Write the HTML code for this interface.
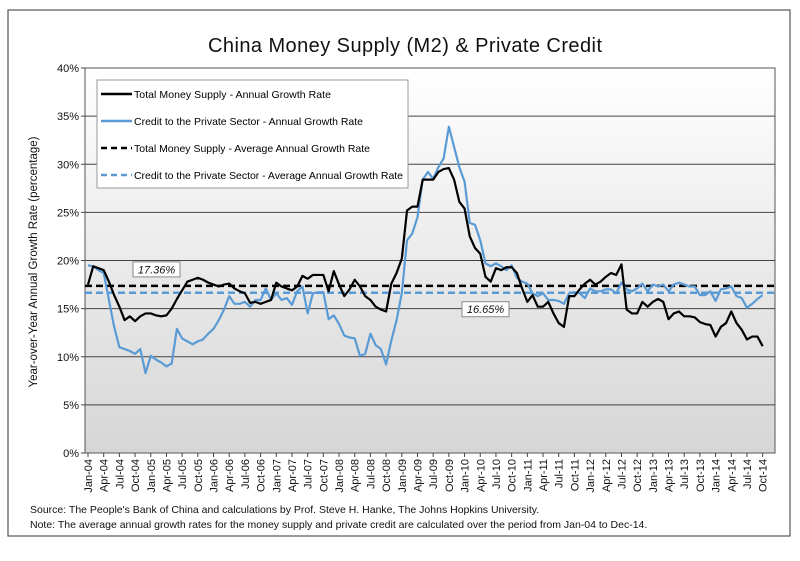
<!DOCTYPE html>
<html><head><meta charset="utf-8">
<style>
body{margin:0;background:#fff;width:800px;height:561px;overflow:hidden;font-family:"Liberation Sans",sans-serif}
svg{display:block}
</style></head>
<body>
<svg id="chart" width="800" height="561" xmlns="http://www.w3.org/2000/svg">
<defs>
<linearGradient id="bg" x1="0" y1="0" x2="0" y2="1"><stop offset="0" stop-color="#ffffff"/><stop offset="1" stop-color="#d6d6d6"/></linearGradient>
</defs>
<rect x="8" y="10" width="782" height="526" fill="#fff" stroke="#555" stroke-width="1.2"/>
<text x="405" y="52" text-anchor="middle" font-size="20" fill="#111" textLength="394">China Money Supply (M2) &amp; Private Credit</text>
<rect x="85" y="68" width="690" height="385" fill="url(#bg)" stroke="#555"/>
<g id="grid"></g><g id="yticks"></g><g id="xticks"></g><g id="series"></g>
<text transform="translate(37,262) rotate(-90)" text-anchor="middle" font-size="11.5" fill="#111">Year-over-Year Annual Growth Rate (percentage)</text>
<g>
<rect x="97" y="80" width="311" height="108" fill="#fff" stroke="#999"/>
<line x1="101" y1="94" x2="132" y2="94" stroke="#000" stroke-width="2.5"/><text x="134" y="98" font-size="10.5" textLength="197">Total Money Supply - Annual Growth Rate</text>
<line x1="101" y1="121" x2="132" y2="121" stroke="#5b9bd5" stroke-width="2.5"/><text x="134" y="125" font-size="10.5" textLength="229">Credit to the Private Sector - Annual Growth Rate</text>
<line x1="101" y1="148" x2="132" y2="148" stroke="#000" stroke-width="2.5" stroke-dasharray="6,4"/><text x="134" y="152" font-size="10.5" textLength="236">Total Money Supply - Average Annual Growth Rate</text>
<line x1="101" y1="175" x2="132" y2="175" stroke="#5b9bd5" stroke-width="2.5" stroke-dasharray="6,4"/><text x="134" y="179" font-size="10.5" textLength="269">Credit to the Private Sector - Average Annual Growth Rate</text>
</g>
<text x="30" y="513" font-size="10.5" fill="#111">Source: The People's Bank of China and calculations by Prof. Steve H. Hanke, The Johns Hopkins University.</text>
<text x="30" y="528" font-size="10.5" fill="#111">Note: The average annual growth rates for the money supply and private credit are calculated over the period from Jan-04 to Dec-14.</text>
</svg>
<script>
const m2=[17.5,19.4,19.2,19.0,17.8,16.4,15.2,13.8,14.2,13.7,14.2,14.5,
14.5,14.3,14.2,14.3,15.0,16.0,16.9,17.8,18.0,18.2,18.0,17.7,
17.5,17.3,17.5,17.6,17.1,16.8,16.6,15.6,15.7,15.5,15.7,15.9,
17.7,17.3,17.1,16.9,17.3,18.4,18.1,18.5,18.5,18.5,16.8,18.9,
17.5,16.3,17.0,18.0,17.3,16.3,15.9,15.2,14.9,14.7,17.6,18.7,
20.2,25.2,25.6,25.6,28.4,28.4,28.4,29.2,29.5,29.6,28.4,26.1,
25.4,22.5,21.3,20.7,18.3,17.8,19.2,19.0,19.3,19.3,18.7,17.1,
15.7,16.4,15.2,15.2,15.7,14.5,13.5,13.1,16.3,16.3,17.0,17.6,
18.0,17.5,17.8,18.3,18.7,18.5,19.6,14.9,14.5,14.5,15.7,15.2,
15.7,16.0,15.7,13.9,14.5,14.7,14.2,14.2,14.1,13.6,13.4,13.3,
12.1,13.1,13.5,14.7,13.5,12.8,11.8,12.1,12.1,11.1];
const credit=[19.5,19.4,19.0,18.7,15.9,13.1,11.0,10.8,10.6,10.3,10.8,8.3,
10.1,9.7,9.4,9.0,9.3,12.9,11.9,11.6,11.3,11.6,11.8,12.4,
12.9,13.8,14.9,16.3,15.5,15.5,15.7,15.2,15.9,15.9,17.1,15.9,
16.6,15.9,16.1,15.4,16.8,17.3,14.5,16.6,16.7,16.7,13.9,14.3,
13.4,12.2,12.0,11.9,10.1,10.3,12.4,11.2,10.8,9.2,11.7,13.8,
16.6,22.1,22.8,24.5,28.4,29.2,28.5,29.7,30.6,33.9,31.8,29.7,
28.2,23.9,23.7,22.1,19.7,19.4,19.7,19.4,19.0,19.5,18.2,17.8,
17.6,16.6,16.3,16.6,15.9,15.9,15.8,15.5,16.6,16.7,16.6,16.1,
17.1,16.8,16.8,17.0,17.0,16.6,17.7,17.0,16.8,17.1,17.6,16.8,
17.5,17.3,17.5,16.8,17.5,17.7,17.5,17.3,17.3,16.4,16.4,16.8,
15.8,17.0,17.1,17.3,16.3,16.1,15.1,15.5,16.0,16.4];
const averages=[17.36,16.65];
const yTicks=[0,5,10,15,20,25,30,35,40];
const months=["Jan","Apr","Jul","Oct"];
const years=["04","05","06","07","08","09","10","11","12","13","14"];

const NS="http://www.w3.org/2000/svg";
const X0=88,DX=5.23,PL=85,PR=775,PT=68,PB=453;
const x=i=>X0+i*DX;
const y=v=>PB-(v/40)*(PB-PT);
function mk(tag,attrs,parent){const e=document.createElementNS(NS,tag);for(const k in attrs)e.setAttribute(k,attrs[k]);parent.appendChild(e);return e;}
const grid=document.getElementById('grid'),yt=document.getElementById('yticks'),xt=document.getElementById('xticks'),ser=document.getElementById('series');
yTicks.forEach(t=>{
  if(t>0&&t<40){const l=mk('line',{x1:PL,x2:PR,y1:y(t),y2:y(t),stroke:'#444','stroke-width':1},grid);
  
  }
  mk('line',{x1:PL-4,x2:PL,y1:y(t),y2:y(t),stroke:'#444'},yt);
  const tx=mk('text',{x:PL-6,y:y(t)+4,'text-anchor':'end','font-size':11,fill:'#111'},yt);tx.textContent=t+'%';
  
  
});
let q=0;
years.forEach((yr)=>{months.forEach((mo,k)=>{
  const i=q*3;const xx=x(i);
  mk('line',{x1:xx,x2:xx,y1:PB,y2:PB+4,stroke:'#444'},xt);
  const tx=mk('text',{transform:`translate(${xx+4},${PB+6}) rotate(-90)`,'text-anchor':'end','font-size':11,fill:'#111'},xt);
  tx.textContent=mo+'-'+yr;
  
  
  q++;
});});
const avgColors=['#000','#5b9bd5'];
averages.forEach((a,j)=>{
  const l=mk('line',{x1:PL,x2:PR,y1:y(a),y2:y(a),stroke:avgColors[j],'stroke-width':2.5,'stroke-dasharray':'7,4'},ser);
  
  
});
function line(data,color,name){
  const p=mk('polyline',{points:data.map((v,i)=>x(i)+','+y(v)).join(' '),fill:'none',stroke:color,'stroke-width':2.2,'stroke-linejoin':'round'},ser);
  
  
}
line(credit,'#5b9bd5','credit-line');
line(m2,'#000','m2-line');
function label(txt,xx,yy,name){
  const g=mk('g',{},ser);
  
  
  mk('rect',{x:xx,y:yy,width:47,height:15,fill:'#fff',stroke:'#888'},g);
  const t=mk('text',{x:xx+23.5,y:yy+11.5,'text-anchor':'middle','font-size':11,'font-style':'italic',fill:'#111'},g);t.textContent=txt;
}
label(averages[0].toFixed(2)+'%',133,y(averages[0])-24,'m2-average-label');
label(averages[1].toFixed(2)+'%',462,y(averages[1])+9,'credit-average-label');
</script>
</body></html>
